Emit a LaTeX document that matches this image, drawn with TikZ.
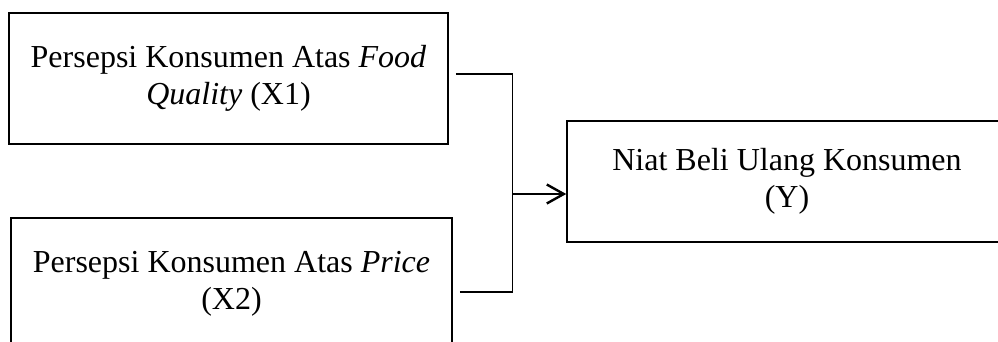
\documentclass[tikz,border=0pt]{standalone}
\usepackage{fontspec}
\setmainfont{Liberation Serif}
\usetikzlibrary{arrows.meta}
\begin{document}
\begin{tikzpicture}[x=1pt,y=-1pt,
  box/.style={draw, line width=1.5pt, align=center, inner sep=0pt,
    font=\fontsize{32}{37}\selectfont},
  conn/.style={line width=1.8pt},
  arr/.style={line width=2.4pt, -{Straight Barb[length=17pt,width=19pt,line width=2.4pt]}}]
\useasboundingbox (0,0) rectangle (998,342);
\clip (0,0) rectangle (998,342);
\node[box, minimum width=439pt, minimum height=131pt] (b1) at (228.5,78.5)
  {Persepsi Konsumen Atas \textit{Food}\\\textit{Quality} (X1)};
\node[box, minimum width=441pt, minimum height=132pt] (b2) at (231.5,284)
  {Persepsi Konsumen Atas \textit{Price}\\(X2)};
\node[box, minimum width=440pt, minimum height=121pt] (b3) at (787,181.5)
  {Niat Beli Ulang Konsumen\\(Y)};
\coordinate (j) at (512.5,194);
\draw[conn] ([xshift=7pt,yshift=4.5pt]b1.east) -| (j);
\draw[conn] ([xshift=7pt,yshift=-8pt]b2.east) -| (j);
\draw[arr] (j) -- (j -| b3.west);
\end{tikzpicture}
\end{document}
